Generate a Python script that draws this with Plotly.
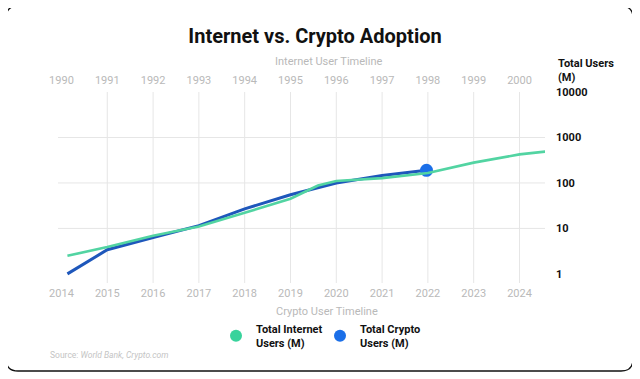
import plotly.graph_objects as go

# ---------------- data ----------------
internet_years = [1990.13, 1991, 1992, 1993, 1994, 1995, 1995.6, 1996, 1997, 1998, 1999, 2000, 2000.56]
internet_users = [2.5, 3.9, 6.9, 11, 22, 45, 88, 110, 128, 165, 280, 425, 490]

crypto_years = [2014.13, 2015, 2016, 2017, 2018, 2019, 2020, 2021, 2021.97]
crypto_users = [1.0, 3.4, 6.3, 11.5, 27, 55, 100, 145, 190]

internet_ticks = [1990, 1991, 1992, 1993, 1994, 1995, 1996, 1997, 1998, 1999, 2000]
crypto_ticks = [2014, 2015, 2016, 2017, 2018, 2019, 2020, 2021, 2022, 2023, 2024]
grid_years = crypto_ticks[1:]
y_ticks = [1, 10, 100, 1000, 10000]
y_grid = [10, 100, 1000]

# ---------------- styling ----------------
OFF = 8                      # page body margin
W, H = 640 - OFF, 379 - OFF
# plot area in window pixels
L, R, T, B = 58, 545, 92, 283
FONT = "Roboto"
GREEN = "#52d4a2"
GREEN_DOT = "#38d39c"
BLUE = "#1e57bb"
BLUE_DOT = "#1b6fe8"
GRID = "#e6e6e6"
GRAY = "#b9b9b9"


def px(x):
    return (x - L) / (R - L)


def py(y):
    return (B - y) / (B - T)


x_lo, x_hi = 2013.924, 2024.557
offset = crypto_ticks[0] - internet_ticks[0]

fig = go.Figure()

fig.add_trace(go.Scatter(
    x=internet_years, y=internet_users, xaxis="x2", yaxis="y",
    mode="lines", line=dict(color=GREEN, width=2.6),
    name="Total Internet Users (M)", showlegend=False, hoverinfo="skip"))
fig.add_trace(go.Scatter(
    x=crypto_years, y=crypto_users, mode="lines",
    line=dict(color=BLUE, width=3),
    name="Total Crypto Users (M)", showlegend=False, hoverinfo="skip"))
fig.add_trace(go.Scatter(
    x=crypto_years[-1:], y=crypto_users[-1:], mode="markers",
    marker=dict(color=BLUE_DOT, size=13), showlegend=False, hoverinfo="skip"))

# legend entries
fig.add_trace(go.Scatter(
    x=[None], y=[None], mode="markers", marker=dict(color=GREEN_DOT, size=12),
    name="<b>Total Internet</b><br><b>Users (M)</b>"))
fig.add_trace(go.Scatter(
    x=[None], y=[None], mode="markers", marker=dict(color=BLUE_DOT, size=12),
    name="<b>Total Crypto</b><br><b>Users (M)</b>"))

shapes = []
for yr in grid_years:
    shapes.append(dict(type="line", xref="x", yref="paper", x0=yr, x1=yr, y0=0, y1=1,
                       line=dict(color=GRID, width=1), layer="below"))
for v in y_grid:
    shapes.append(dict(type="line", xref="paper", yref="y", x0=0, x1=1, y0=v, y1=v,
                       line=dict(color=GRID, width=1), layer="below"))

# rounded frame
fl, fr, ft, fb, rad = 6, 633, 6, 371, 12
path = (f"M {px(fl + rad)},{py(ft)} L {px(fr - rad)},{py(ft)} "
        f"Q {px(fr)},{py(ft)} {px(fr)},{py(ft + rad)} "
        f"L {px(fr)},{py(fb - rad)} Q {px(fr)},{py(fb)} {px(fr - rad)},{py(fb)} "
        f"L {px(fl + rad)},{py(fb)} Q {px(fl)},{py(fb)} {px(fl)},{py(fb - rad)} "
        f"L {px(fl)},{py(ft + rad)} Q {px(fl)},{py(ft)} {px(fl + rad)},{py(ft)} Z")
shapes.append(dict(type="path", xref="paper", yref="paper", path=path,
                   line=dict(color="#111111", width=1.3), layer="above"))

annotations = [
    dict(text="Internet User Timeline", x=px(328), y=py(62), xref="paper", yref="paper",
         showarrow=False, font=dict(family=FONT, size=11, color=GRAY), xanchor="center", yanchor="middle"),
    dict(text="Crypto User Timeline", x=px(327), y=py(311), xref="paper", yref="paper",
         showarrow=False, font=dict(family=FONT, size=11, color=GRAY), xanchor="center", yanchor="middle"),
    dict(text="<b>Total Users</b><br><b>(M)</b>", x=px(556), y=py(71), xref="paper", yref="paper",
         showarrow=False, align="left", font=dict(family=FONT, size=11, color="#111111"),
         xanchor="left", yanchor="middle"),
    dict(text="Source: <i>World Bank, Crypto.com</i>", x=px(48), y=py(355), xref="paper", yref="paper",
         showarrow=False, align="left", font=dict(family=FONT, size=8.5, color="#c4c4c4"),
         xanchor="left", yanchor="middle"),
]

axis_common = dict(showgrid=False, zeroline=False, showline=False, ticks="",
                   tickfont=dict(family=FONT, size=11, color=GRAY))

fig.update_layout(
    width=W, height=H,
    margin=dict(l=L - OFF, r=W - (R - OFF), t=T - OFF, b=H - (B - OFF)),
    paper_bgcolor="white", plot_bgcolor="white",
    title=dict(text="<b>Internet vs. Crypto Adoption</b>", x=(315 - OFF) / W, xanchor="center",
               y=1 - (36 - OFF) / H, yanchor="middle", xref="container",
               font=dict(family=FONT, size=20, color="#111111")),
    xaxis=dict(range=[x_lo, x_hi], tickvals=crypto_ticks, ticktext=[str(t) for t in crypto_ticks],
               ticklabelstandoff=2, **axis_common),
    xaxis2=dict(range=[x_lo - offset, x_hi - offset], overlaying="x", side="top",
                tickvals=internet_ticks, ticktext=[str(t) for t in internet_ticks],
                ticklabelstandoff=5, **axis_common),
    yaxis=dict(type="log", range=[-0.2, 4.0], side="right", tickvals=y_ticks,
               ticktext=[f"<b>{t}</b>" for t in y_ticks], showgrid=False, zeroline=False,
               showline=False, ticks="", ticklabelstandoff=10,
               tickfont=dict(family=FONT, size=11, color="#111111")),
    legend=dict(orientation="h", x=px(216), y=py(336), xanchor="left", yanchor="middle",
                font=dict(family=FONT, size=11, color="#111111"), itemclick=False,
                bgcolor="rgba(0,0,0,0)", entrywidth=59, entrywidthmode="pixels",
                itemsizing="constant"),
    shapes=shapes,
    annotations=annotations,
)

fig.write_html("out.html")
